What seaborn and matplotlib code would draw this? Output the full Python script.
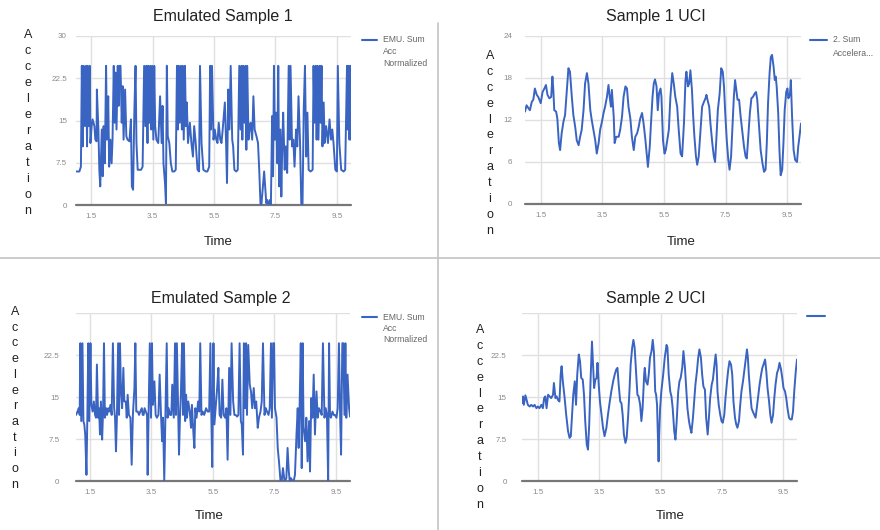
import numpy as np
import pandas as pd
import seaborn as sns
import matplotlib.pyplot as plt
from matplotlib.lines import Line2D

sns.set_theme(style="white")
plt.rcParams['font.family'] = ['Liberation Sans', 'DejaVu Sans']

# ---------------- data ----------------
# Emulated Sample 1
TIME_EMU1 = [
    1.00, 1.11, 1.16, 1.19, 1.22, 1.25, 1.29, 1.33, 1.36, 1.38,
    1.41, 1.45, 1.47, 1.51, 1.54, 1.60, 1.63, 1.67, 1.68, 1.73,
    1.76, 1.79, 1.84, 1.87, 1.90, 1.94, 1.98, 2.01, 2.05, 2.08,
    2.12, 2.16, 2.19, 2.23, 2.26, 2.29, 2.32, 2.36, 2.39, 2.42,
    2.45, 2.49, 2.52, 2.55, 2.60, 2.64, 2.68, 2.74, 2.79, 2.82,
    2.86, 2.90, 2.94, 2.97, 3.01, 3.06, 3.12, 3.17, 3.22, 3.26,
    3.29, 3.33, 3.35, 3.39, 3.42, 3.45, 3.48, 3.52, 3.55, 3.58,
    3.62, 3.68, 3.74, 3.79, 3.82, 3.85, 3.90, 3.93, 3.96, 3.99,
    4.04, 4.09, 4.14, 4.20, 4.25, 4.29, 4.32, 4.35, 4.38, 4.42,
    4.45, 4.48, 4.51, 4.55, 4.58, 4.61, 4.65, 4.71, 4.76, 4.81,
    4.85, 4.90, 4.96, 5.01, 5.04, 5.09, 5.15, 5.23, 5.28, 5.34,
    5.37, 5.40, 5.43, 5.48, 5.52, 5.57, 5.61, 5.65, 5.70, 5.74,
    5.78, 5.85, 5.89, 5.92, 5.96, 6.00, 6.04, 6.09, 6.12, 6.16,
    6.22, 6.27, 6.32, 6.36, 6.39, 6.42, 6.45, 6.49, 6.52, 6.55,
    6.58, 6.62, 6.65, 6.69, 6.74, 6.78, 6.82, 6.88, 6.93, 6.97,
    7.01, 7.04, 7.08, 7.13, 7.17, 7.20, 7.23, 7.28, 7.32, 7.35,
    7.39, 7.42, 7.45, 7.48, 7.52, 7.56, 7.59, 7.62, 7.66, 7.69,
    7.72, 7.75, 7.80, 7.84, 7.88, 7.93, 7.96, 7.99, 8.04, 8.08,
    8.12, 8.17, 8.21, 8.25, 8.30, 8.34, 8.38, 8.42, 8.46, 8.50,
    8.54, 8.58, 8.64, 8.71, 8.74, 8.77, 8.81, 8.84, 8.87, 8.90,
    8.94, 8.97, 9.00, 9.03, 9.07, 9.10, 9.15, 9.21, 9.26, 9.31,
    9.35, 9.39, 9.45, 9.50, 9.53, 9.58, 9.64, 9.72, 9.77, 9.83,
    9.85, 9.88, 9.91, 9.94, 9.96,
]
ACC_EMU1 = [
    5.95, 5.95, 6.8, 24.7, 10.4, 24.7, 14.0, 24.7, 10.4, 24.7,
    14.0, 24.7, 11.0, 14.0, 15.2, 14.0, 11.6, 11.3, 20.5, 13.4,
    6.25, 3.3, 13.4, 5.1, 14.0, 7.4, 24.7, 11.6, 19.3, 6.8,
    11.6, 7.4, 11.6, 24.7, 14.6, 23.5, 13.4, 24.7, 17.6, 24.7,
    24.7, 14.6, 21.1, 11.6, 20.5, 12.2, 11.6, 11.3, 15.2, 3.3,
    2.7, 16.4, 24.7, 11.0, 6.25, 6.25, 6.25, 6.8, 24.7, 14.0,
    24.7, 11.0, 24.7, 14.6, 24.7, 13.4, 24.7, 11.6, 24.7, 14.0,
    11.6, 11.0, 19.3, 11.0, 17.6, 7.4, 3.9, 0.3, 24.7, 12.2,
    11.0, 7.4, 5.95, 5.95, 6.25, 24.7, 13.4, 24.7, 14.6, 24.7,
    13.4, 24.7, 11.6, 24.7, 14.0, 18.2, 11.0, 14.6, 11.0, 8.6,
    14.0, 11.0, 6.25, 5.95, 24.7, 11.0, 6.25, 5.95, 5.95, 6.8,
    24.7, 13.4, 24.7, 11.6, 13.4, 11.6, 11.0, 14.6, 11.6, 11.0,
    13.4, 18.2, 11.0, 3.9, 20.5, 13.4, 24.7, 11.6, 10.4, 6.25,
    5.95, 6.25, 24.7, 13.4, 24.7, 11.6, 24.7, 14.6, 24.7, 9.8,
    24.7, 11.6, 13.4, 14.6, 11.6, 19.3, 13.4, 12.2, 11.0, 6.25,
    0.3, 0.0, 2.7, 5.95, 2.7, 0.3, 0.9, 0.0, 0.9, 0.0,
    15.8, 5.1, 24.7, 11.6, 16.4, 7.4, 24.7, 3.3, 13.4, 1.5,
    10.4, 16.4, 6.25, 10.4, 5.7, 24.7, 11.6, 24.7, 10.4, 11.6,
    6.8, 13.4, 10.4, 19.3, 11.0, 0.3, 0.0, 17.0, 24.7, 8.6,
    16.4, 6.25, 5.95, 6.25, 24.7, 14.6, 24.7, 11.6, 24.7, 11.6,
    24.7, 14.6, 24.7, 10.4, 18.2, 11.0, 14.0, 11.0, 15.2, 11.6,
    13.4, 11.0, 6.25, 5.95, 24.7, 11.0, 6.25, 5.95, 6.25, 24.7,
    13.4, 24.7, 11.6, 24.7, 11.6,
]

# Sample 1 UCI
TIME_UCI1 = [
    0.99, 1.04, 1.10, 1.15, 1.21, 1.26, 1.31, 1.37, 1.42, 1.50,
    1.56, 1.62, 1.67, 1.72, 1.78, 1.84, 1.88, 1.91, 1.94, 2.00,
    2.04, 2.09, 2.13, 2.18, 2.24, 2.29, 2.35, 2.40, 2.45, 2.51,
    2.56, 2.62, 2.67, 2.73, 2.78, 2.83, 2.89, 2.94, 3.00, 3.05,
    3.11, 3.16, 3.21, 3.27, 3.32, 3.38, 3.43, 3.49, 3.54, 3.59,
    3.65, 3.70, 3.74, 3.78, 3.81, 3.87, 3.90, 3.95, 4.03, 4.08,
    4.14, 4.19, 4.25, 4.30, 4.35, 4.41, 4.46, 4.52, 4.57, 4.63,
    4.68, 4.73, 4.79, 4.84, 4.90, 4.95, 4.98, 5.04, 5.08, 5.13,
    5.17, 5.21, 5.26, 5.30, 5.34, 5.39, 5.42, 5.47, 5.52, 5.56,
    5.60, 5.66, 5.71, 5.77, 5.82, 5.87, 5.93, 5.98, 6.04, 6.09,
    6.15, 6.20, 6.23, 6.28, 6.32, 6.36, 6.41, 6.45, 6.49, 6.54,
    6.58, 6.63, 6.69, 6.74, 6.80, 6.85, 6.88, 6.93, 6.97, 7.01,
    7.07, 7.12, 7.16, 7.20, 7.25, 7.31, 7.36, 7.41, 7.45, 7.49,
    7.54, 7.59, 7.63, 7.68, 7.72, 7.77, 7.81, 7.85, 7.89, 7.94,
    7.99, 8.05, 8.10, 8.15, 8.19, 8.23, 8.29, 8.34, 8.39, 8.45,
    8.49, 8.53, 8.59, 8.64, 8.70, 8.75, 8.80, 8.84, 8.88, 8.93,
    8.97, 9.01, 9.06, 9.10, 9.13, 9.16, 9.21, 9.25, 9.29, 9.34,
    9.38, 9.42, 9.47, 9.51, 9.54, 9.59, 9.62, 9.66, 9.71, 9.76,
    9.82, 9.86, 9.90, 9.95,
]
ACC_UCI1 = [
    13.2, 14.1, 13.7, 13.4, 14.6, 14.9, 16.5, 15.6, 15.3, 14.4,
    16.0, 16.5, 17.0, 15.6, 15.1, 15.3, 18.2, 16.3, 13.4, 13.2,
    12.2, 8.7, 7.7, 10.1, 11.8, 12.7, 16.3, 19.4, 18.9, 15.3,
    12.7, 11.0, 9.1, 8.4, 9.6, 10.6, 13.4, 17.2, 18.7, 17.2,
    13.4, 11.9, 10.6, 9.1, 7.2, 8.7, 10.6, 11.8, 13.0, 13.9,
    15.3, 17.0, 15.3, 13.9, 16.3, 12.5, 8.7, 9.6, 9.6, 10.6,
    12.5, 15.3, 16.8, 16.5, 13.9, 12.2, 9.6, 7.7, 9.6, 10.1,
    11.0, 12.2, 13.0, 11.5, 9.1, 6.8, 5.3, 8.2, 11.5, 15.3,
    17.2, 17.8, 16.8, 13.4, 15.8, 16.5, 15.3, 9.1, 7.2, 7.7,
    8.9, 10.6, 15.3, 18.7, 17.2, 15.3, 13.9, 10.6, 7.2, 6.8,
    11.5, 17.7, 18.9, 16.8, 17.2, 19.1, 16.3, 12.5, 9.6, 6.8,
    5.6, 6.8, 10.6, 13.9, 14.6, 15.1, 15.6, 14.6, 13.9, 11.5,
    8.7, 6.8, 6.0, 9.1, 13.4, 15.8, 19.4, 18.9, 16.8, 13.0,
    9.1, 6.3, 4.9, 6.8, 10.6, 15.3, 17.7, 16.3, 14.9, 14.9,
    12.5, 10.1, 8.2, 6.8, 6.5, 9.1, 13.0, 15.1, 15.3, 15.8,
    16.0, 14.9, 11.0, 7.7, 5.8, 4.6, 4.9, 8.7, 14.4, 18.7,
    21.0, 21.3, 19.6, 17.7, 18.2, 16.8, 13.0, 7.7, 4.1, 4.9,
    8.7, 13.4, 16.0, 16.5, 15.1, 15.6, 17.7, 12.5, 7.7, 6.3,
    6.0, 8.2, 9.6, 11.5,
]

# Emulated Sample 2
TIME_EMU2 = [
    1.05, 1.10, 1.14, 1.17, 1.19, 1.22, 1.26, 1.29, 1.32, 1.35,
    1.39, 1.42, 1.45, 1.48, 1.52, 1.55, 1.59, 1.63, 1.67, 1.70,
    1.73, 1.77, 1.80, 1.83, 1.86, 1.90, 1.93, 1.96, 1.99, 2.03,
    2.06, 2.10, 2.13, 2.17, 2.21, 2.25, 2.29, 2.32, 2.35, 2.38,
    2.42, 2.45, 2.48, 2.51, 2.55, 2.59, 2.62, 2.67, 2.70, 2.73,
    2.77, 2.82, 2.86, 2.90, 2.95, 2.98, 3.01, 3.06, 3.10, 3.14,
    3.19, 3.22, 3.25, 3.28, 3.32, 3.36, 3.38, 3.41, 3.45, 3.49,
    3.52, 3.55, 3.60, 3.64, 3.68, 3.73, 3.77, 3.81, 3.85, 3.88,
    3.92, 3.96, 4.00, 4.03, 4.06, 4.11, 4.15, 4.18, 4.23, 4.27,
    4.30, 4.33, 4.37, 4.40, 4.43, 4.46, 4.50, 4.53, 4.56, 4.60,
    4.63, 4.66, 4.70, 4.75, 4.79, 4.82, 4.87, 4.90, 4.93, 4.97,
    5.02, 5.06, 5.09, 5.13, 5.17, 5.22, 5.28, 5.33, 5.38, 5.42,
    5.45, 5.48, 5.52, 5.55, 5.59, 5.64, 5.68, 5.72, 5.77, 5.81,
    5.85, 5.90, 5.94, 5.98, 6.03, 6.07, 6.11, 6.16, 6.20, 6.24,
    6.29, 6.33, 6.37, 6.41, 6.44, 6.48, 6.51, 6.55, 6.58, 6.61,
    6.65, 6.70, 6.74, 6.78, 6.83, 6.87, 6.91, 6.96, 7.00, 7.05,
    7.09, 7.13, 7.18, 7.22, 7.26, 7.31, 7.35, 7.39, 7.42, 7.46,
    7.49, 7.52, 7.57, 7.61, 7.65, 7.70, 7.74, 7.78, 7.83, 7.86,
    7.89, 7.93, 7.97, 8.00, 8.04, 8.09, 8.13, 8.17, 8.22, 8.26,
    8.29, 8.32, 8.36, 8.39, 8.42, 8.45, 8.50, 8.54, 8.58, 8.63,
    8.66, 8.70, 8.74, 8.78, 8.82, 8.87, 8.91, 8.95, 9.00, 9.04,
    9.08, 9.13, 9.17, 9.21, 9.25, 9.28, 9.31, 9.34, 9.39, 9.43,
    9.47, 9.52, 9.56, 9.60, 9.64, 9.67, 9.71, 9.74, 9.78, 9.81,
    9.84, 9.88, 9.93, 9.96,
]
ACC_EMU2 = [
    11.8, 12.4, 13.0, 11.8, 24.6, 10.7, 24.6, 10.7, 10.1, 8.3,
    1.1, 11.8, 24.6, 10.7, 24.6, 13.6, 12.4, 14.2, 11.8, 11.3,
    20.8, 11.3, 13.0, 8.3, 14.2, 7.4, 12.4, 24.6, 11.3, 13.0,
    11.8, 13.0, 12.4, 13.6, 11.8, 24.6, 13.0, 11.3, 5.3, 11.3,
    24.6, 11.8, 24.6, 16.6, 13.0, 20.2, 14.2, 14.2, 11.3, 15.4,
    11.8, 11.3, 2.9, 11.8, 16.6, 24.6, 12.4, 12.4, 11.8, 12.4,
    13.0, 11.8, 11.8, 13.0, 12.4, 11.8, 1.1, 11.8, 24.6, 11.3,
    24.6, 13.6, 17.8, 11.8, 11.3, 11.8, 19.0, 12.4, 7.1, 11.3,
    0.0, 11.8, 24.6, 11.3, 13.0, 11.8, 11.8, 17.2, 11.3, 24.6,
    11.8, 24.6, 13.0, 4.7, 11.3, 15.4, 24.6, 11.8, 24.6, 10.7,
    15.4, 11.3, 14.2, 12.4, 9.5, 13.6, 8.3, 5.9, 13.0, 11.3,
    14.2, 12.4, 24.6, 11.8, 12.4, 11.8, 13.0, 12.4, 12.4, 24.6,
    11.8, 2.5, 24.6, 10.1, 13.0, 16.6, 20.2, 11.8, 11.3, 18.1,
    11.8, 11.3, 13.0, 3.8, 20.2, 11.8, 24.6, 14.2, 11.8, 11.8,
    11.5, 11.8, 24.6, 10.7, 10.1, 4.7, 24.6, 13.0, 24.6, 11.8,
    24.3, 17.2, 16.0, 13.0, 16.6, 13.0, 14.2, 9.5, 11.3, 12.4,
    14.2, 24.6, 11.8, 13.0, 12.4, 11.8, 13.0, 24.6, 11.3, 24.6,
    24.6, 13.0, 11.3, 5.9, 3.5, 0.0, 0.0, 2.3, 0.0, 0.2,
    0.5, 5.9, 1.7, 0.0, 0.5, 0.0, 0.0, 1.1, 8.3, 13.0,
    5.9, 13.0, 24.6, 2.3, 24.6, 9.5, 7.1, 11.3, 3.5, 10.7,
    1.7, 14.8, 11.3, 19.0, 8.3, 16.0, 11.3, 13.0, 12.4, 11.8,
    24.6, 11.3, 13.0, 11.8, 0.0, 24.6, 11.8, 11.3, 12.4, 11.8,
    11.8, 11.3, 13.0, 24.6, 11.3, 4.7, 24.6, 24.6, 11.8, 24.6,
    11.3, 19.0, 13.0, 11.5,
]

# Sample 2 UCI
TIME_UCI2 = [
    0.98, 1.01, 1.04, 1.09, 1.13, 1.17, 1.23, 1.28, 1.34, 1.39,
    1.45, 1.50, 1.55, 1.61, 1.66, 1.70, 1.74, 1.78, 1.83, 1.88,
    1.93, 1.99, 2.02, 2.07, 2.11, 2.15, 2.20, 2.24, 2.27, 2.31,
    2.37, 2.42, 2.48, 2.53, 2.57, 2.61, 2.65, 2.70, 2.74, 2.78,
    2.83, 2.87, 2.91, 2.96, 3.00, 3.04, 3.09, 3.13, 3.17, 3.22,
    3.26, 3.29, 3.33, 3.37, 3.41, 3.44, 3.48, 3.52, 3.57, 3.62,
    3.67, 3.73, 3.78, 3.84, 3.89, 3.95, 4.00, 4.05, 4.09, 4.13,
    4.18, 4.22, 4.26, 4.30, 4.35, 4.39, 4.44, 4.48, 4.52, 4.57,
    4.61, 4.65, 4.70, 4.74, 4.78, 4.83, 4.87, 4.91, 4.96, 4.98,
    5.02, 5.07, 5.11, 5.15, 5.20, 5.24, 5.28, 5.32, 5.35, 5.38,
    5.43, 5.45, 5.48, 5.52, 5.58, 5.63, 5.69, 5.72, 5.76, 5.81,
    5.85, 5.89, 5.94, 5.98, 6.02, 6.07, 6.11, 6.15, 6.20, 6.24,
    6.29, 6.33, 6.37, 6.42, 6.46, 6.50, 6.55, 6.59, 6.63, 6.68,
    6.72, 6.76, 6.81, 6.85, 6.89, 6.94, 6.98, 7.03, 7.07, 7.11,
    7.16, 7.20, 7.24, 7.29, 7.32, 7.35, 7.39, 7.44, 7.48, 7.52,
    7.57, 7.61, 7.66, 7.70, 7.74, 7.79, 7.83, 7.87, 7.92, 7.96,
    8.00, 8.05, 8.09, 8.13, 8.18, 8.22, 8.26, 8.31, 8.34, 8.37,
    8.42, 8.46, 8.50, 8.55, 8.59, 8.63, 8.68, 8.72, 8.77, 8.81,
    8.85, 8.90, 8.94, 8.98, 9.03, 9.07, 9.11, 9.16, 9.20, 9.24,
    9.29, 9.33, 9.37, 9.42, 9.46, 9.50, 9.55, 9.59, 9.63, 9.68,
    9.72, 9.77, 9.81, 9.85, 9.90, 9.94,
]
ACC_UCI2 = [
    13.9, 15.1, 13.6, 15.3, 14.5, 13.6, 13.3, 13.6, 13.3, 13.6,
    13.0, 13.3, 13.0, 13.6, 13.0, 14.8, 15.1, 13.0, 15.4, 15.1,
    14.8, 15.4, 17.5, 14.8, 15.1, 14.5, 14.2, 19.0, 20.5, 17.8,
    14.8, 11.8, 8.9, 7.7, 8.0, 11.8, 15.4, 17.8, 13.6, 19.0,
    22.6, 21.4, 18.4, 18.1, 15.4, 10.7, 6.5, 5.6, 10.1, 19.0,
    24.9, 21.4, 16.6, 18.1, 18.4, 21.1, 17.2, 14.2, 11.8, 9.5,
    8.0, 9.5, 11.8, 14.2, 16.0, 17.8, 19.0, 19.9, 20.2, 17.2,
    14.2, 13.9, 11.8, 8.3, 6.8, 7.7, 11.8, 16.0, 20.8, 23.8,
    25.2, 23.8, 19.0, 15.4, 15.1, 13.6, 10.7, 13.0, 19.0, 20.2,
    17.8, 17.2, 19.0, 22.0, 23.2, 25.2, 22.9, 16.0, 15.4, 13.6,
    3.5, 8.3, 13.0, 16.0, 19.0, 22.0, 24.3, 23.8, 19.0, 16.0,
    15.1, 13.0, 8.9, 7.4, 10.7, 16.0, 17.8, 18.4, 20.2, 23.2,
    20.2, 16.6, 13.0, 10.7, 9.5, 8.6, 11.3, 14.2, 17.2, 19.6,
    22.0, 23.5, 22.0, 19.0, 16.9, 16.3, 11.3, 8.3, 11.3, 14.8,
    17.2, 18.1, 20.2, 22.6, 20.8, 16.0, 13.6, 11.8, 10.7, 10.4,
    11.8, 14.8, 17.8, 19.9, 21.4, 20.8, 19.0, 14.2, 11.3, 10.1,
    9.5, 10.7, 13.6, 16.0, 17.8, 19.6, 21.4, 23.5, 22.0, 19.0,
    15.4, 13.0, 12.4, 11.8, 11.3, 13.0, 15.4, 17.2, 19.0, 20.2,
    20.8, 21.7, 19.6, 16.6, 14.2, 11.8, 10.4, 11.8, 14.8, 17.2,
    19.3, 19.9, 21.1, 19.9, 18.4, 16.6, 16.0, 14.8, 13.0, 11.3,
    11.0, 11.0, 12.4, 16.0, 19.6, 21.7,
]

X_TICKS = [1.5, 3.5, 5.5, 7.5, 9.5]
X_TICK_LABELS = ["1.5", "3.5", "5.5", "7.5", "9.5"]
Y_TICKS_EMU = [0, 7.5, 15, 22.5, 30]
Y_TICKS_UCI1 = [0, 6, 12, 18, 24]

TITLES = ["Emulated Sample 1", "Sample 1 UCI", "Emulated Sample 2", "Sample 2 UCI"]
LEGENDS = [["EMU. Sum", "Acc", "Normalized"], ["2. Sum", "Accelera..."],
           ["EMU. Sum", "Acc", "Normalized"], []]

# ---------------- figure ----------------
W, H = 880, 530
BLUE = "#3a64c2"
fig = plt.figure(figsize=(W / 100, H / 100), dpi=100)


def fx(px):
    return px / W


def fy(py):
    return 1 - py / H


panels = [
    dict(t=TIME_EMU1, a=ACC_EMU1, box=(76, 351, 36, 205), yt=Y_TICKS_EMU,
         ytl=["0", "7.5", "15", "22.5", "30"], ymax=30, ypad=6.5,
         title=(223, 17), ylab=(28, 35, 16.0), time=(218, 242),
         leg=(362, 377, 40, 383, 12)),
    dict(t=TIME_UCI1, a=ACC_UCI1, box=(525, 801, 36, 204), yt=Y_TICKS_UCI1,
         ytl=["0", "6", "12", "18", "24"], ymax=24, ypad=9,
         title=(656, 17), ylab=(490, 56, 15.9), time=(681, 242),
         leg=(810, 827, 40, 833, 14)),
    dict(t=TIME_EMU2, a=ACC_EMU2, box=(76, 350, 313, 481), yt=Y_TICKS_EMU,
         ytl=["0", "7.5", "15", "22.5", ""], ymax=30, ypad=12,
         title=(221, 299), ylab=(15, 312, 15.7), time=(209, 516),
         leg=(362, 377, 317, 383, 11.5)),
    dict(t=TIME_UCI2, a=ACC_UCI2, box=(522, 797, 313, 481), yt=Y_TICKS_EMU,
         ytl=["0", "7.5", "15", "22.5", ""], ymax=30, ypad=11,
         title=(656, 299), ylab=(480, 330, 15.9), time=(670, 516),
         leg=(807, 825, 316, 831, 12)),
]

for i, p in enumerate(panels):
    l, r, top, bot = p["box"]
    ax = fig.add_axes([fx(l), fy(bot), (r - l) / W, (bot - top) / H])
    df = pd.DataFrame({"Time": p["t"], "Acc": p["a"]})
    sns.lineplot(data=df, x="Time", y="Acc", ax=ax, color=BLUE, lw=1.4,
                 estimator=None, sort=False, zorder=3)
    ax.set_xlim(min(p["t"]), max(p["t"]))
    ax.set_ylim(0, p["ymax"])
    ax.set_xticks(X_TICKS)
    ax.set_xticklabels(X_TICK_LABELS)
    ax.set_yticks(p["yt"])
    ax.set_yticklabels(p["ytl"])
    ax.grid(True, color="#e0e0e0", lw=1.0)
    ax.set_axisbelow(True)
    for s in ax.spines.values():
        s.set_visible(False)
    ax.axhline(0, color="#777777", lw=1.6, zorder=2, clip_on=False)
    ax.tick_params(axis="both", length=0, labelsize=5.8, colors="#8a8a8a")
    ax.tick_params(axis="y", pad=p["ypad"])
    ax.tick_params(axis="x", pad=5.5)
    ax.set_xlabel("")
    ax.set_ylabel("")

    # title
    tx, ty = p["title"]
    fig.text(fx(tx), fy(ty), TITLES[i], ha="center", va="center",
             fontsize=11.5, color="#222222")
    # stacked y label
    lx, ly0, step = p["ylab"]
    for k, ch in enumerate("Acceleration"):
        fig.text(fx(lx), fy(ly0 + k * step), ch, ha="center", va="center",
                 fontsize=9, color="#222222")
    # x label
    xx, xy = p["time"]
    fig.text(fx(xx), fy(xy), "Time", ha="center", va="center",
             fontsize=9.5, color="#222222")
    # legend
    x0, x1, ly, txx, lstep = p["leg"]
    fig.add_artist(Line2D([fx(x0), fx(x1)], [fy(ly), fy(ly)],
                          transform=fig.transFigure, color=BLUE, lw=1.5))
    for k, line in enumerate(LEGENDS[i]):
        fig.text(fx(txx), fy(ly + k * lstep), line, ha="left", va="center",
                 fontsize=6.2, color="#666666")

# separators
fig.add_artist(Line2D([fx(437.5), fx(437.5)], [fy(23), fy(530)],
                      transform=fig.transFigure, color="#c4c4c4", lw=1.2))
fig.add_artist(Line2D([fx(0), fx(880)], [fy(258), fy(258)],
                      transform=fig.transFigure, color="#c4c4c4", lw=1.2))

fig.savefig("out.png", dpi=100, facecolor="white")
